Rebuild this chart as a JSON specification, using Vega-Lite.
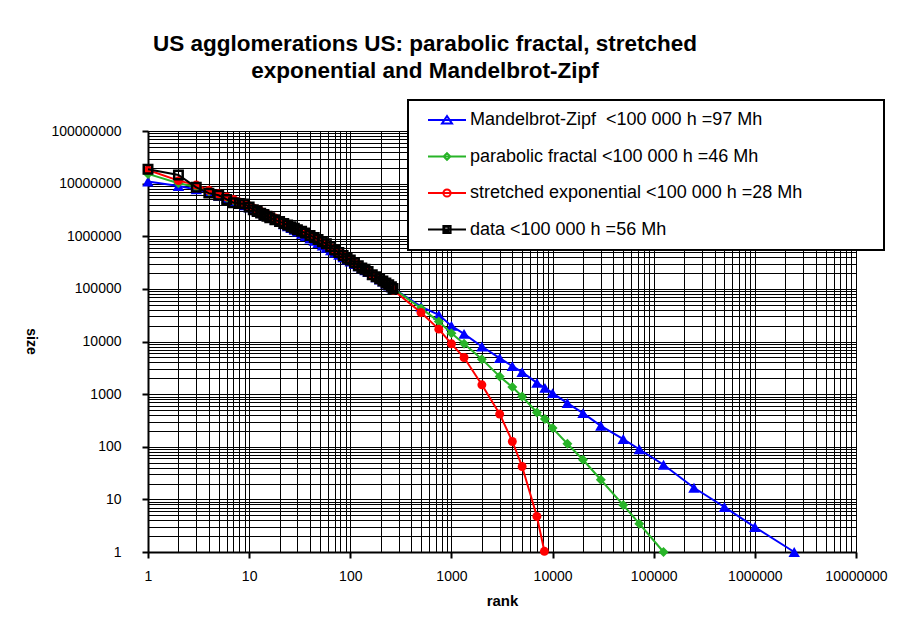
{
  "$schema": "https://vega.github.io/schema/vega-lite/v6.json",
  "width": 708,
  "height": 421,
  "autosize": {"type": "none"},
  "padding": {"left": 148, "top": 131, "right": 52, "bottom": 69},
  "background": "white",
  "title": {
    "text": ["US agglomerations US: parabolic fractal, stretched", "exponential and Mandelbrot-Zipf"],
    "font": "Liberation Sans", "fontSize": 22.5, "fontWeight": "bold", "color": "black",
    "anchor": "middle", "dx": -77, "offset": 17, "lineHeight": 27
  },
  "data": {"values": [
    {"series":"mz","rank":1,"size":11000000},{"series":"mz","rank":2,"size":9000000},{"series":"mz","rank":3,"size":7760000},{"series":"mz","rank":4,"size":6760000},{"series":"mz","rank":5,"size":5890000},{"series":"mz","rank":6,"size":5250000},{"series":"mz","rank":7,"size":4680000},{"series":"mz","rank":8,"size":4270000},{"series":"mz","rank":9,"size":3890000},{"series":"mz","rank":10,"size":3550000},{"series":"mz","rank":11,"size":3260000},{"series":"mz","rank":12,"size":3010000},{"series":"mz","rank":13,"size":2800000},{"series":"mz","rank":14,"size":2620000},{"series":"mz","rank":15,"size":2470000},{"series":"mz","rank":16,"size":2320000},{"series":"mz","rank":18,"size":2070000},{"series":"mz","rank":20,"size":1860000},{"series":"mz","rank":22,"size":1690000},{"series":"mz","rank":24,"size":1550000},{"series":"mz","rank":26,"size":1430000},{"series":"mz","rank":28,"size":1320000},{"series":"mz","rank":30,"size":1230000},{"series":"mz","rank":33,"size":1110000},{"series":"mz","rank":36,"size":1010000},{"series":"mz","rank":40,"size":908000},{"series":"mz","rank":44,"size":818000},{"series":"mz","rank":48,"size":743000},{"series":"mz","rank":53,"size":667000},{"series":"mz","rank":58,"size":604000},{"series":"mz","rank":64,"size":541000},{"series":"mz","rank":70,"size":490000},{"series":"mz","rank":77,"size":442000},{"series":"mz","rank":85,"size":396000},{"series":"mz","rank":93,"size":359000},{"series":"mz","rank":100,"size":331000},{"series":"mz","rank":110,"size":297000},{"series":"mz","rank":120,"size":269000},{"series":"mz","rank":130,"size":245000},{"series":"mz","rank":140,"size":225000},{"series":"mz","rank":150,"size":208000},{"series":"mz","rank":165,"size":186000},{"series":"mz","rank":180,"size":166000},{"series":"mz","rank":195,"size":150000},{"series":"mz","rank":210,"size":137000},{"series":"mz","rank":225,"size":126000},{"series":"mz","rank":240,"size":116000},{"series":"mz","rank":255,"size":107000},{"series":"mz","rank":265,"size":102000},
    {"series":"mz","rank":500,"size":46100},{"series":"mz","rank":750,"size":32100},{"series":"mz","rank":1000,"size":19800},{"series":"mz","rank":1333,"size":13970},{"series":"mz","rank":2000,"size":8020},{"series":"mz","rank":3000,"size":4830},{"series":"mz","rank":4000,"size":3400},{"series":"mz","rank":5000,"size":2620},{"series":"mz","rank":7000,"size":1640},{"series":"mz","rank":8400,"size":1318},{"series":"mz","rank":10000,"size":1045},{"series":"mz","rank":14000,"size":675},{"series":"mz","rank":20000,"size":436},{"series":"mz","rank":30000,"size":250},{"series":"mz","rank":50000,"size":140},{"series":"mz","rank":72000,"size":89.6},{"series":"mz","rank":125000,"size":45.5},{"series":"mz","rank":250000,"size":16.6},{"series":"mz","rank":500000,"size":7.16},{"series":"mz","rank":1000000,"size":2.98},{"series":"mz","rank":2450000,"size":1},
    {"series":"pf","rank":1,"size":15300000},{"series":"pf","rank":2,"size":10200000},{"series":"pf","rank":3,"size":8600000},{"series":"pf","rank":4,"size":7160000},{"series":"pf","rank":5,"size":6150000},{"series":"pf","rank":6,"size":5400000},{"series":"pf","rank":7,"size":4810000},{"series":"pf","rank":8,"size":4350000},{"series":"pf","rank":9,"size":3960000},{"series":"pf","rank":10,"size":3640000},{"series":"pf","rank":11,"size":3370000},{"series":"pf","rank":12,"size":3130000},{"series":"pf","rank":13,"size":2920000},{"series":"pf","rank":14,"size":2740000},{"series":"pf","rank":15,"size":2580000},{"series":"pf","rank":16,"size":2430000},{"series":"pf","rank":18,"size":2190000},{"series":"pf","rank":20,"size":1990000},{"series":"pf","rank":22,"size":1820000},{"series":"pf","rank":24,"size":1670000},{"series":"pf","rank":26,"size":1550000},{"series":"pf","rank":28,"size":1440000},{"series":"pf","rank":30,"size":1340000},{"series":"pf","rank":33,"size":1220000},{"series":"pf","rank":36,"size":1120000},{"series":"pf","rank":40,"size":1000000},{"series":"pf","rank":44,"size":904000},{"series":"pf","rank":48,"size":824000},{"series":"pf","rank":53,"size":740000},{"series":"pf","rank":58,"size":670000},{"series":"pf","rank":64,"size":600000},{"series":"pf","rank":70,"size":542000},{"series":"pf","rank":77,"size":487000},{"series":"pf","rank":85,"size":433000},{"series":"pf","rank":93,"size":390000},{"series":"pf","rank":100,"size":357000},{"series":"pf","rank":110,"size":318000},{"series":"pf","rank":120,"size":286000},{"series":"pf","rank":130,"size":259000},{"series":"pf","rank":140,"size":236000},{"series":"pf","rank":150,"size":216000},{"series":"pf","rank":165,"size":192000},{"series":"pf","rank":180,"size":171000},{"series":"pf","rank":195,"size":154000},{"series":"pf","rank":210,"size":140000},{"series":"pf","rank":225,"size":128000},{"series":"pf","rank":240,"size":117000},{"series":"pf","rank":255,"size":108000},{"series":"pf","rank":265,"size":102000},
    {"series":"pf","rank":500,"size":43000},{"series":"pf","rank":750,"size":23900},{"series":"pf","rank":1000,"size":14400},{"series":"pf","rank":1333,"size":9030},{"series":"pf","rank":2000,"size":4620},{"series":"pf","rank":3000,"size":2160},{"series":"pf","rank":4000,"size":1360},{"series":"pf","rank":5000,"size":900},{"series":"pf","rank":7000,"size":448},{"series":"pf","rank":8400,"size":336},{"series":"pf","rank":10000,"size":226},{"series":"pf","rank":14000,"size":114},{"series":"pf","rank":20000,"size":56.6},{"series":"pf","rank":30000,"size":23.6},{"series":"pf","rank":50000,"size":7.8},{"series":"pf","rank":72000,"size":3.45},{"series":"pf","rank":125000,"size":1},
    {"series":"se","rank":1,"size":18200000},{"series":"se","rank":2,"size":11400000},{"series":"se","rank":3,"size":9400000},{"series":"se","rank":4,"size":7500000},{"series":"se","rank":5,"size":6400000},{"series":"se","rank":6,"size":5600000},{"series":"se","rank":7,"size":5000000},{"series":"se","rank":8,"size":4500000},{"series":"se","rank":9,"size":4100000},{"series":"se","rank":10,"size":3750000},{"series":"se","rank":11,"size":3450000},{"series":"se","rank":12,"size":3200000},{"series":"se","rank":13,"size":2980000},{"series":"se","rank":14,"size":2800000},{"series":"se","rank":15,"size":2630000},{"series":"se","rank":16,"size":2480000},{"series":"se","rank":18,"size":2230000},{"series":"se","rank":20,"size":2020000},{"series":"se","rank":22,"size":1850000},{"series":"se","rank":24,"size":1700000},{"series":"se","rank":26,"size":1570000},{"series":"se","rank":28,"size":1460000},{"series":"se","rank":30,"size":1360000},{"series":"se","rank":33,"size":1240000},{"series":"se","rank":36,"size":1130000},{"series":"se","rank":40,"size":1010000},{"series":"se","rank":44,"size":910000},{"series":"se","rank":48,"size":830000},{"series":"se","rank":53,"size":745000},{"series":"se","rank":58,"size":672000},{"series":"se","rank":64,"size":600000},{"series":"se","rank":70,"size":540000},{"series":"se","rank":77,"size":484000},{"series":"se","rank":85,"size":430000},{"series":"se","rank":93,"size":386000},{"series":"se","rank":100,"size":352000},{"series":"se","rank":110,"size":312000},{"series":"se","rank":120,"size":280000},{"series":"se","rank":130,"size":252000},{"series":"se","rank":140,"size":228000},{"series":"se","rank":150,"size":208000},{"series":"se","rank":165,"size":184000},{"series":"se","rank":180,"size":163000},{"series":"se","rank":195,"size":146000},{"series":"se","rank":210,"size":132000},{"series":"se","rank":225,"size":120000},{"series":"se","rank":240,"size":109000},{"series":"se","rank":255,"size":100000},{"series":"se","rank":265,"size":95000},
    {"series":"se","rank":500,"size":35500},{"series":"se","rank":750,"size":17180},{"series":"se","rank":1000,"size":9030},{"series":"se","rank":1333,"size":4960},{"series":"se","rank":2000,"size":1503},{"series":"se","rank":3000,"size":418},{"series":"se","rank":4000,"size":126},{"series":"se","rank":5000,"size":42.2},{"series":"se","rank":7000,"size":4.74},{"series":"se","rank":8300,"size":1.03},
    {"series":"data","rank":1,"size":18800000},{"series":"data","rank":2,"size":14600000},{"series":"data","rank":3,"size":8500000},{"series":"data","rank":4,"size":6600000},{"series":"data","rank":5,"size":6000000},{"series":"data","rank":6,"size":5000000},{"series":"data","rank":7,"size":4350000},{"series":"data","rank":8,"size":4200000},{"series":"data","rank":9,"size":4100000},{"series":"data","rank":10,"size":3600000},{"series":"data","rank":11,"size":3200000},{"series":"data","rank":12,"size":2950000},{"series":"data","rank":13,"size":2750000},{"series":"data","rank":14,"size":2600000},{"series":"data","rank":15,"size":2400000},{"series":"data","rank":16,"size":2250000},{"series":"data","rank":18,"size":2050000},{"series":"data","rank":20,"size":1900000},{"series":"data","rank":22,"size":1750000},{"series":"data","rank":24,"size":1630000},{"series":"data","rank":26,"size":1520000},{"series":"data","rank":28,"size":1420000},{"series":"data","rank":30,"size":1330000},{"series":"data","rank":33,"size":1240000},{"series":"data","rank":36,"size":1150000},{"series":"data","rank":40,"size":1030000},{"series":"data","rank":44,"size":950000},{"series":"data","rank":48,"size":870000},{"series":"data","rank":53,"size":790000},{"series":"data","rank":58,"size":720000},{"series":"data","rank":64,"size":630000},{"series":"data","rank":70,"size":550000},{"series":"data","rank":77,"size":490000},{"series":"data","rank":85,"size":430000},{"series":"data","rank":93,"size":380000},{"series":"data","rank":100,"size":355000},{"series":"data","rank":110,"size":315000},{"series":"data","rank":120,"size":275000},{"series":"data","rank":130,"size":250000},{"series":"data","rank":140,"size":235000},{"series":"data","rank":150,"size":215000},{"series":"data","rank":165,"size":185000},{"series":"data","rank":180,"size":170000},{"series":"data","rank":195,"size":155000},{"series":"data","rank":210,"size":141000},{"series":"data","rank":225,"size":129000},{"series":"data","rank":240,"size":120000},{"series":"data","rank":255,"size":110000},{"series":"data","rank":265,"size":102000}
  ]},
  "encoding": {
    "x": {
      "field": "rank", "type": "quantitative",
      "scale": {"type": "log", "domain": [1, 10000000], "nice": false},
      "axis": {
        "values": [1,2,3,4,5,6,7,8,9,10,20,30,40,50,60,70,80,90,100,200,300,400,500,600,700,800,900,1000,2000,3000,4000,5000,6000,7000,8000,9000,10000,20000,30000,40000,50000,60000,70000,80000,90000,100000,200000,300000,400000,500000,600000,700000,800000,900000,1000000,2000000,3000000,4000000,5000000,6000000,7000000,8000000,9000000,10000000],
        "format": "d",
        "labelExpr": "abs(log(datum.value)/LN10 - round(log(datum.value)/LN10)) < 0.000001 ? datum.label : ''",
        "tickOpacity": {"condition": {"test": "abs(log(datum.value)/LN10 - round(log(datum.value)/LN10)) < 0.000001", "value": 1}, "value": 0},
        "labelPadding": 11,
        "title": "rank", "titleFontSize": 15, "titleFontWeight": "bold", "titlePadding": 10
      }
    },
    "y": {
      "field": "size", "type": "quantitative",
      "scale": {"type": "log", "domain": [1, 100000000], "nice": false},
      "axis": {
        "values": [1,2,3,4,5,6,7,8,9,10,20,30,40,50,60,70,80,90,100,200,300,400,500,600,700,800,900,1000,2000,3000,4000,5000,6000,7000,8000,9000,10000,20000,30000,40000,50000,60000,70000,80000,90000,100000,200000,300000,400000,500000,600000,700000,800000,900000,1000000,2000000,3000000,4000000,5000000,6000000,7000000,8000000,9000000,10000000,20000000,30000000,40000000,50000000,60000000,70000000,80000000,90000000,100000000],
        "format": "d",
        "labelExpr": "abs(log(datum.value)/LN10 - round(log(datum.value)/LN10)) < 0.000001 ? datum.label : ''",
        "tickOpacity": {"condition": {"test": "abs(log(datum.value)/LN10 - round(log(datum.value)/LN10)) < 0.000001", "value": 1}, "value": 0},
        "labelPadding": 21,
        "title": "size", "titleFontSize": 14, "titleFontWeight": "bold",
        "titleAngle": 90, "titleX": -118, "titleY": 210, "titleAlign": "center", "titleBaseline": "middle"
      }
    }
  },
  "layer": [
    {
      "transform": [{"filter": {"field": "series", "equal": "mz"}}],
      "mark": {"type": "line", "color": "#0000FF", "strokeWidth": 2, "point": {"shape": "triangle-up", "filled": true, "size": 130, "color": "#0000FF"}}
    },
    {
      "transform": [{"filter": {"field": "series", "equal": "pf"}}],
      "mark": {"type": "line", "color": "#28B428", "strokeWidth": 2, "point": {"shape": "diamond", "filled": true, "size": 100, "color": "#28B428"}}
    },
    {
      "transform": [{"filter": {"field": "series", "equal": "se"}}],
      "mark": {"type": "line", "color": "#FF0000", "strokeWidth": 2, "point": {"shape": "circle", "filled": true, "size": 80, "color": "#FF0000"}}
    },
    {
      "transform": [{"filter": {"field": "series", "equal": "data"}}],
      "mark": {"type": "line", "color": "#000000", "strokeWidth": 2, "point": {"shape": "square", "filled": false, "size": 72, "strokeWidth": 2.5, "color": "#000000"}}
    },
    {
      "mark": {"type": "point", "filled": true, "opacity": 0},
      "encoding": {
        "fill": {
          "field": "series", "type": "nominal",
          "scale": {"domain": ["mz", "pf", "se", "data"], "range": ["#0000FF", "#28B428", "#FF0000", "#000000"]},
          "legend": {
            "orient": "none", "legendX": 260, "legendY": -31, "direction": "vertical",
            "title": null, "padding": 11, "fillColor": "white", "strokeColor": "black",
            "labelFont": "Liberation Sans", "labelFontSize": 18, "labelColor": "black", "labelLimit": 800,
            "labelOffset": 33, "rowPadding": 18.5, "symbolSize": 256, "symbolStrokeWidth": 2, "symbolOpacity": 1,
            "labelExpr": "(datum.label == 'mz' ? 'Mandelbrot-Zipf\u00a0 <100 000 h =97 Mh' : datum.label == 'pf' ? 'parabolic fractal <100 000 h =46 Mh' : datum.label == 'se' ? 'stretched exponential <100 000 h =28 Mh' : 'data <100 000 h =56 Mh') + '\u00a0\u00a0\u00a0\u00a0\u00a0\u00a0\u00a0\u00a0\u00a0\u00a0\u00a0\u00a0\u00a0\u00a0\u200b'"
          }
        },
        "stroke": {
          "field": "series", "type": "nominal",
          "scale": {"domain": ["mz", "pf", "se", "data"], "range": ["#0000FF", "#28B428", "#FF0000", "#000000"]}
        },
        "shape": {
          "field": "series", "type": "nominal",
          "scale": {"domain": ["mz", "pf", "se", "data"], "range": [
            "M0,0H4.75M2.375,-0.5L3.0,0.45L1.75,0.45Z",
            "M0,0H4.75M2.375,-0.42L2.795,0L2.375,0.42L1.955,0Z",
            "M0,0H4.75M1.925,0A0.45,0.45,0,1,0,2.825,0A0.45,0.45,0,1,0,1.925,0Z",
            "M0,0H4.75M1.925,-0.45H2.825V0.45H1.925ZM2.03,-0.33V0.2H2.56V-0.33Z"
          ]}
        }
      }
    }
  ],
  "config": {
    "font": "Liberation Sans",
    "view": {"stroke": "#808080", "strokeWidth": 1},
    "legend": {"strokeWidth": 2},
    "axis": {
      "grid": true, "gridColor": "#000000", "gridWidth": 1, "gridOpacity": 1,
      "domainColor": "#000000", "domainWidth": 2,
      "tickColor": "#000000", "tickWidth": 2, "tickSize": 6,
      "labelFont": "Liberation Sans", "labelFontSize": 14, "labelColor": "#000000",
      "labelOverlap": false, "labelFlush": false, "labelBound": false,
      "titleFont": "Liberation Sans", "titleColor": "#000000"
    }
  }
}
